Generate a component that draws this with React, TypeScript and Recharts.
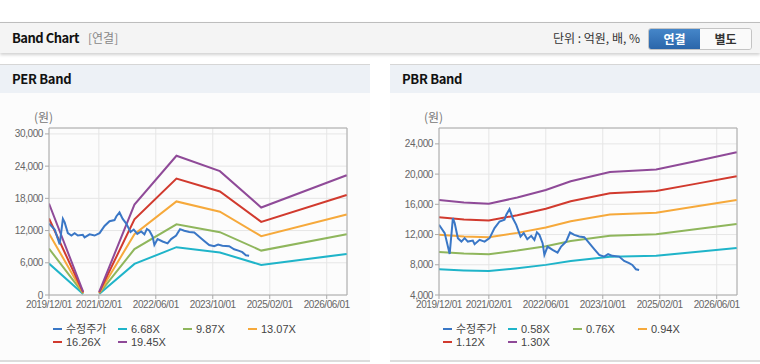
import { LineChart, Line, XAxis, YAxis, CartesianGrid, ReferenceLine } from 'recharts'

// x is months since 2019/12
const xTicks = [0, 14, 30, 46, 62, 78]
const xLabels = ['2019/12/01', '2021/02/01', '2022/06/01', '2023/10/01', '2025/02/01', '2026/06/01']
const xMax = 83.7

const priceMonths = [0, 1.6, 3, 3.9, 4.4, 5.3, 6.3, 7.2, 8.1, 9.5, 10, 11.4, 12.8, 14.2, 15.6, 17, 18.4, 18.9, 19.8, 20.7, 21.7, 22.9, 23.8, 24.8, 25.9, 26.8, 27.5, 28.2, 29.1, 29.6, 30.5, 31.9, 33.3, 34.3, 35.7, 36.8, 38, 39.4, 40.8, 42.2, 43.6, 45, 46.4, 47.5, 48.7, 50.6, 52, 53.4, 54.3, 55.3, 56.2]
const priceValues = [13290, 12190, 9440, 14180, 13520, 11520, 11070, 11520, 11070, 11200, 10730, 11300, 11070, 11520, 12850, 13730, 13950, 14620, 15370, 14180, 13290, 11740, 12190, 11390, 11830, 11300, 12300, 11960, 10860, 9310, 10410, 9970, 9610, 10410, 11070, 12270, 11960, 11740, 11650, 10860, 10070, 9310, 9080, 9400, 9180, 9080, 8510, 8210, 7980, 7410, 7320]

const perMonths = [0, 9.6, 12, 14.1, 24, 35.8, 48, 59.6, 83.6]
const per668 = [5852, 200, null, 200, 5785, 8904, 7922, 5598, 7655]
const per987 = [8646, 296, null, 296, 8547, 13157, 11706, 8271, 11311]
const per1307 = [11449, 392, null, 392, 11319, 17422, 15501, 10953, 14978]
const per1626 = [14244, 488, null, 488, 14081, 21675, 19284, 13626, 18634]
const per1945 = [17038, 584, null, 584, 16844, 25927, 23068, 16299, 22290]
const perNames = ['6.68X', '9.87X', '13.07X', '16.26X', '19.45X']
const perTicks = [0, 6000, 12000, 18000, 24000, 30000]

const pbrMonths = [0, 7, 14, 22, 30, 37, 48, 61, 72, 83.6]
const pbr058 = [7393, 7250, 7175, 7540, 7987, 8497, 9048, 9193, 9686, 10217]
const pbr076 = [9687, 9500, 9401, 9880, 10465, 11134, 11856, 12046, 12692, 13387]
const pbr094 = [11981, 11750, 11628, 12220, 12944, 13771, 14664, 14899, 15698, 16558]
const pbr112 = [14276, 14000, 13854, 14560, 15422, 16408, 17472, 17752, 18704, 19729]
const pbr130 = [16570, 16250, 16081, 16900, 17901, 19045, 20280, 20605, 21710, 22900]
const pbrNames = ['0.58X', '0.76X', '0.94X', '1.12X', '1.30X']
const pbrTicks = [4000, 8000, 12000, 16000, 20000, 24000]

const priceColor = '#3a77c6'
const bandColors = ['#1fb4c9', '#8fb65c', '#f6a93b', '#d13a2e', '#8f4a98']

const toRows = (months: number[], values: (number | null)[]) => months.map((m, i) => ({ m, v: values[i] }))

const priceRows = toRows(priceMonths, priceValues)

const tickFont = { fontSize: 10, fill: '#666', fontFamily: 'Liberation Sans, sans-serif' }

function BandPanel({ left, title, bands, names, yDomain, yTicks }: any) {
  const legendNames = ['수정주가', ...names]
  const legendColors = [priceColor, ...bandColors]
  return (
    <>
      <div style={{ position: 'absolute', left, top: 64, width: 370, height: 1, background: '#d6d6d6' }} />
      <div style={{ position: 'absolute', left, top: 65, width: 370, height: 28, background: '#edf1f6' }} />
      <div style={{ position: 'absolute', left: left + 12, top: 70, fontSize: 13, fontWeight: 700, color: '#111', fontFamily: 'Noto Sans CJK KR', lineHeight: '18px', letterSpacing: '-0.3px' }}>{title}</div>
      <div style={{ position: 'absolute', left, top: 93, width: 370, height: 267, background: '#fcfcfc' }} />
      <div style={{ position: 'absolute', left, top: 360, width: 370, height: 2, background: '#dcdcdc' }} />
      <div style={{ position: 'absolute', left: left + 34, top: 109, fontSize: 12, color: '#777', fontFamily: 'Noto Sans CJK KR', lineHeight: '16px' }}>(원)</div>

      <div style={{ position: 'absolute', left, top: 110 }}>
        <LineChart width={370} height={205} margin={{ top: 18, right: 23, left: 0, bottom: 0 }} style={{ letterSpacing: '-0.4px' }}>
          <CartesianGrid stroke="#e6e6e6" />
          <XAxis type="number" dataKey="m" domain={[0, xMax]} ticks={xTicks} allowDataOverflow
            tickFormatter={(v: number) => xLabels[xTicks.indexOf(v)]} height={20} tick={tickFont}
            stroke="#aaa" tickSize={4} interval={0} />
          <YAxis type="number" domain={yDomain} ticks={yTicks} allowDataOverflow width={49}
            tickFormatter={(v: number) => v.toLocaleString('en-US')} tick={tickFont} stroke="#aaa" tickSize={4} />
          <ReferenceLine y={yDomain[1]} stroke="#aaa" />
          <ReferenceLine x={xMax} stroke="#aaa" />
          {bands.map((b: any, i: number) => (
            <Line key={names[i]} data={b} dataKey="v" name={names[i]} stroke={bandColors[i]} strokeWidth={2}
              dot={false} type="linear" isAnimationActive={false} />
          ))}
          <Line data={priceRows} dataKey="v" name="수정주가" stroke={priceColor} strokeWidth={2}
            dot={false} type="linear" isAnimationActive={false} />
        </LineChart>
      </div>

      <div style={{ position: 'absolute', left: left + 53, top: 322, width: 262, display: 'flex', flexWrap: 'wrap', fontSize: 11, color: '#444', fontFamily: 'Liberation Sans, Noto Sans CJK KR', lineHeight: '14px' }}>
        {legendNames.map((n, i) => (
          <div key={n} style={{ width: i % 4 === 3 ? 64 : 65, display: 'flex', alignItems: 'center', height: 13 }}>
            <span style={{ display: 'inline-block', width: 9, height: 2, background: legendColors[i], marginRight: 4 }} />
            <span>{n}</span>
          </div>
        ))}
      </div>
    </>
  )
}

export default function App() {
  const perBands = [per668, per987, per1307, per1626, per1945].map(v => toRows(perMonths, v))
  const pbrBands = [pbr058, pbr076, pbr094, pbr112, pbr130].map(v => toRows(pbrMonths, v))
  return (
    <div style={{ position: 'absolute', left: 0, top: 0, width: 760, height: 364, background: '#fff', overflow: 'hidden' }}>
      <div style={{ position: 'absolute', left: 0, top: 22, width: 760, height: 30, background: '#f4f4f4', borderTop: '1px solid #bdbdbd', boxShadow: '0 2px 3px rgba(0,0,0,0.18)' }} />
      <div style={{ position: 'absolute', left: 12, top: 29, fontSize: 13, fontWeight: 700, color: '#111', fontFamily: 'Noto Sans CJK KR', lineHeight: '18px', letterSpacing: '-0.5px' }}>Band Chart</div>
      <div style={{ position: 'absolute', left: 88, top: 29, fontSize: 12, color: '#888', fontFamily: 'Noto Sans CJK KR', lineHeight: '18px' }}>[연결]</div>
      <div style={{ position: 'absolute', left: 553, top: 29, fontSize: 12, color: '#333', fontFamily: 'Noto Sans CJK KR', lineHeight: '18px' }}>단위 : 억원, 배, %</div>
      <div style={{ position: 'absolute', left: 648, top: 28, width: 102, height: 20, border: '1px solid #c4c4c4', borderRadius: 3, overflow: 'hidden', display: 'flex', fontSize: 12, fontWeight: 700, fontFamily: 'Noto Sans CJK KR' }}>
        <div style={{ width: 51, background: 'linear-gradient(#4586c9, #2b66aa)', color: '#fff', textAlign: 'center', lineHeight: '20px' }}>연결</div>
        <div style={{ width: 51, background: '#fafafa', color: '#333', textAlign: 'center', lineHeight: '20px' }}>별도</div>
      </div>

      <BandPanel left={0} title="PER Band" bands={perBands} names={perNames} yDomain={[0, 31100]} yTicks={perTicks} />
      <BandPanel left={390} title="PBR Band" bands={pbrBands} names={pbrNames} yDomain={[4000, 26100]} yTicks={pbrTicks} />
    </div>
  )
}
